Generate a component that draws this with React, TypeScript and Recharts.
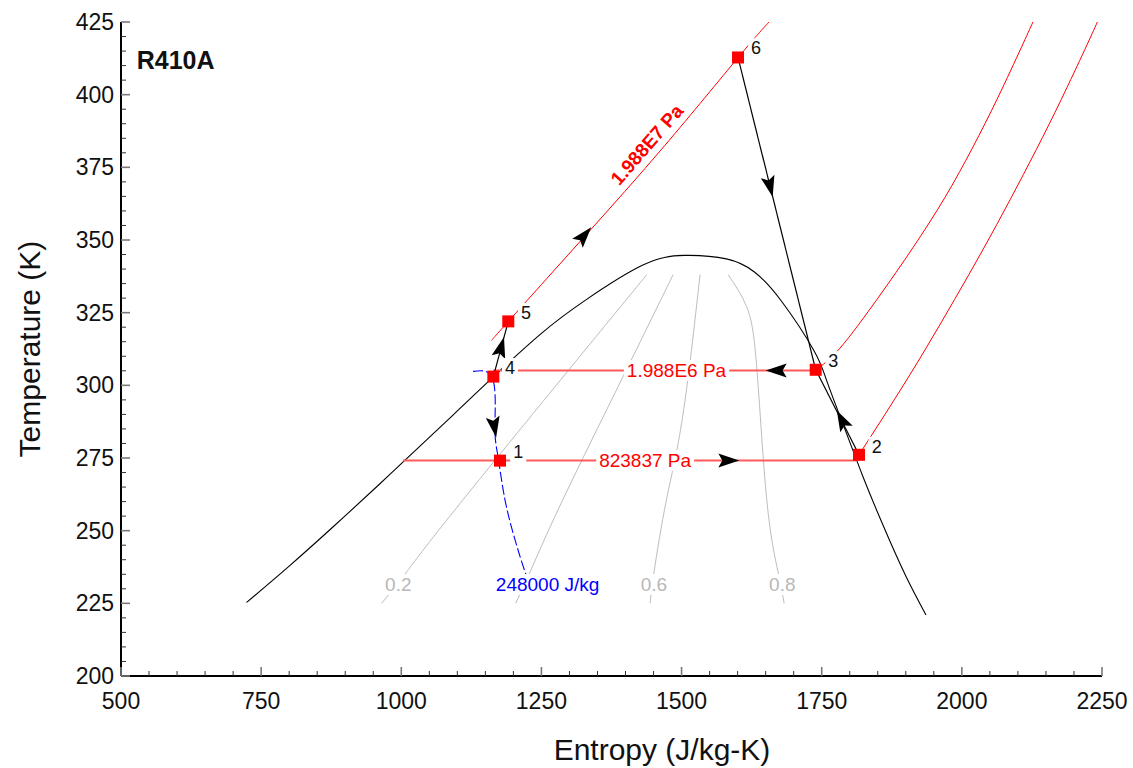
import React from 'react';
import { ComposedChart, Line, XAxis, YAxis } from 'recharts';

type Pt = { s: number; T: number };

// saturation dome (entropy J/kg-K, temperature K)
const satDome: Pt[] = [
  { s: 724, T: 225.3 }, { s: 800, T: 237.8 }, { s: 880, T: 251.6 }, { s: 960, T: 265.8 },
  { s: 1040, T: 280.3 }, { s: 1100, T: 291.2 }, { s: 1164, T: 302.9 }, { s: 1250, T: 317.9 },
  { s: 1330, T: 329.5 }, { s: 1430, T: 341.3 }, { s: 1505, T: 344.7 }, { s: 1580, T: 343.5 },
  { s: 1630, T: 339.0 }, { s: 1678, T: 329.0 }, { s: 1736, T: 312.0 }, { s: 1760, T: 301.0 },
  { s: 1792, T: 284.6 }, { s: 1824, T: 268.4 }, { s: 1860, T: 251.6 }, { s: 1900, T: 234.4 },
  { s: 1936, T: 221.0 },
];

// constant quality lines
const quality02: Pt[] = [{ s: 1438, T: 338.1 }, { s: 1110, T: 260.6 }, { s: 1010, T: 235.9 }, { s: 965, T: 225.0 }];
const quality04: Pt[] = [{ s: 1485, T: 338.1 }, { s: 1390, T: 300.8 }, { s: 1288, T: 260.6 }, { s: 1230, T: 235.9 }, { s: 1204, T: 225.0 }];
const quality06: Pt[] = [{ s: 1533, T: 338.1 }, { s: 1502, T: 289.3 }, { s: 1473, T: 260.6 }, { s: 1451, T: 235.9 }, { s: 1444, T: 225.0 }];
const quality08: Pt[] = [{ s: 1583, T: 338.1 }, { s: 1616, T: 327.1 }, { s: 1634, T: 306.5 }, { s: 1652, T: 260.6 }, { s: 1672, T: 235.9 }, { s: 1683, T: 225.0 }];

// isobars
const isobarHigh: Pt[] = [
  { s: 1161, T: 315.4 }, { s: 1191, T: 322.0 }, { s: 1326, T: 351.0 },
  { s: 1470, T: 382.5 }, { s: 1601, T: 412.8 }, { s: 1656, T: 425.0 },
];
const isobarMidSat: Pt[] = [{ s: 1164, T: 305.1 }, { s: 1739, T: 305.1 }];
const isobarMidVapor: Pt[] = [
  { s: 1739.3, T: 305.35 }, { s: 1782.6, T: 312.8 }, { s: 1850.2, T: 330.0 }, { s: 1912.5, T: 347.3 },
  { s: 1969.4, T: 364.5 }, { s: 2019.0, T: 381.7 }, { s: 2064.0, T: 398.9 }, { s: 2105.8, T: 416.1 },
  { s: 2126.8, T: 425.0 },
];
const isobarLowSat: Pt[] = [{ s: 1003, T: 274.1 }, { s: 1812, T: 274.1 }];
const isobarLowVapor: Pt[] = [
  { s: 1816.5, T: 276.1 }, { s: 1879.3, T: 295.0 }, { s: 1934.3, T: 312.2 }, { s: 1986.9, T: 329.5 },
  { s: 2037.7, T: 346.7 }, { s: 2086.2, T: 363.9 }, { s: 2132.8, T: 381.1 }, { s: 2177.2, T: 398.3 },
  { s: 2219.3, T: 415.5 }, { s: 2241.8, T: 425.0 },
];

// isenthalp 248000 J/kg
const isenthalp: Pt[] = [
  { s: 1128, T: 304.8 }, { s: 1163.6, T: 301.9 }, { s: 1167, T: 285.8 }, { s: 1172.5, T: 275.5 },
  { s: 1185, T: 260.6 }, { s: 1203, T: 246.8 }, { s: 1220.7, T: 235.9 }, { s: 1238.5, T: 227.3 },
];

// cycle state points
const statePoints: Pt[] = [
  { s: 1176.1, T: 274.1 }, { s: 1816.5, T: 276.1 }, { s: 1739.3, T: 305.35 },
  { s: 1164.2, T: 303.0 }, { s: 1190.9, T: 322.0 }, { s: 1600.7, T: 412.8 },
];
const stateLabels = [
  { s: 1208.7, T: 277.0, text: '1' }, { s: 1848, T: 278.9, text: '2' }, { s: 1770.7, T: 308.4, text: '3' },
  { s: 1193.9, T: 306.0, text: '4' }, { s: 1222.5, T: 324.9, text: '5' }, { s: 1633, T: 416.0, text: '6' },
];

const process63: Pt[] = [statePoints[5], statePoints[2]];
const process23: Pt[] = [statePoints[1], statePoints[2]];
const process45: Pt[] = [statePoints[3], statePoints[4]];

// arrowheads: position and the point they head towards
const arrows = [
  { s: 1583.4, T: 274.1, toS: 1816.5, toT: 274.1 },
  { s: 1786, T: 288.0, toS: 1739.3, toT: 305.35 },
  { s: 1669.6, T: 305.1, toS: 1164, toT: 305.1 },
  { s: 1166, T: 285.8, toS: 1176.1, toT: 274.1 },
  { s: 1178, T: 313.0, toS: 1190.9, toT: 322.0 },
  { s: 1326, T: 351.5, toS: 1600.7, toT: 412.8 },
  { s: 1657.8, T: 368.5, toS: 1739.3, toT: 305.35 },
];

const isobarLabels = [
  { s: 1491, T: 305.1, text: '1.988E6 Pa' },
  { s: 1435, T: 274.1, text: '823837 Pa' },
];
const highIsobarLabel = [{ s: 1438, T: 382.8, text: '1.988E7 Pa' }];
const qualityLabels = [
  { s: 994.7, T: 231.5, text: '0.2' },
  { s: 1450.8, T: 231.5, text: '0.6' },
  { s: 1679.7, T: 231.5, text: '0.8' },
];
const enthalpyLabel = [{ s: 1261, T: 231.5, text: '248000 J/kg' }];
const fluidLabel = [{ s: 528, T: 411.7, text: 'R410A' }];

const xMajor = [500, 750, 1000, 1250, 1500, 1750, 2000, 2250];
const yMajor = [200, 225, 250, 275, 300, 325, 350, 375, 400, 425];
const xTicks = Array.from({ length: 36 }, (_, i) => 500 + i * 50);
const yTicks = Array.from({ length: 46 }, (_, i) => 200 + i * 5);

const W = 1133;
const H = 768;
const MARGIN = { top: 22, right: 31, bottom: 0, left: 0 };
const Y_AXIS_W = 121;
const X_AXIS_H = 92;
const PLOT_W = W - MARGIN.left - MARGIN.right - Y_AXIS_W;
const PLOT_H = H - MARGIN.top - MARGIN.bottom - X_AXIS_H;
const KX = PLOT_W / (2250 - 500);
const KY = PLOT_H / (425 - 200);

const FONT = '"Liberation Sans", Arial, Helvetica, sans-serif';

// rough Arial advance widths (em) for the label background boxes
const CHAR_W: Record<string, number> = { '.': 0.278, ' ': 0.278, '/': 0.278, E: 0.667, P: 0.667, J: 0.5, k: 0.5 };
const textWidth = (t: string, size: number) =>
  t.split('').reduce((w, c) => w + (CHAR_W[c] ?? 0.556), 0) * size;

const tickStyle = (major: boolean) => ({
  stroke: major ? '#7a7a7a' : '#333',
  strokeWidth: major ? 1.6 : 1,
});

const BottomTick = ({ x, y, payload }: any) => {
  const major = xMajor.includes(payload.value);
  return (
    <g>
      <line x1={x} y1={y} x2={x} y2={y - (major ? 9 : 5)} {...tickStyle(major)} />
      {major && (
        <text x={x} y={y + 33} textAnchor="middle" fontSize={23} fill="#111">
          {payload.value}
        </text>
      )}
    </g>
  );
};

const TopTick = ({ x, y, payload }: any) => {
  const major = xMajor.includes(payload.value);
  return <line x1={x} y1={y} x2={x} y2={y + (major ? 9 : 5)} {...tickStyle(major)} />;
};

const LeftTick = ({ x, y, payload }: any) => {
  const major = yMajor.includes(payload.value);
  return (
    <g>
      <line x1={x} y1={y} x2={x + (major ? 9 : 5)} y2={y} {...tickStyle(major)} />
      {major && (
        <text x={x - 7} y={y} dy="0.35em" textAnchor="end" fontSize={23} fill="#111">
          {payload.value}
        </text>
      )}
    </g>
  );
};

const RightTick = ({ x, y, payload }: any) => {
  const major = yMajor.includes(payload.value);
  return <line x1={x} y1={y} x2={x - (major ? 9 : 5)} y2={y} {...tickStyle(major)} />;
};

const arrowDot = (props: any) => {
  const { cx, cy, payload, index } = props;
  const dx = (payload.toS - payload.s) * KX;
  const dy = -(payload.toT - payload.T) * KY;
  const ang = (Math.atan2(dy, dx) * 180) / Math.PI;
  return (
    <path
      key={`a${index}`}
      d="M11,0 L-10,-7 L-6,0 L-10,7 Z"
      transform={`translate(${cx},${cy}) rotate(${ang})`}
      fill="#000"
    />
  );
};

const squareDot = ({ cx, cy, index }: any) => (
  <rect key={`q${index}`} x={cx - 6} y={cy - 6} width={12} height={12} fill="#ff0000" />
);

type TextOpts = { size: number; color: string; bold?: boolean; rotate?: number; anchor?: string; box?: boolean };

const textDot = (o: TextOpts) => (props: any) => {
  const { cx, cy, payload, index } = props;
  const w = textWidth(payload.text, o.size);
  const bh = o.size * 1.1;
  return (
    <g key={`t${index}`} transform={o.rotate ? `rotate(${o.rotate} ${cx} ${cy})` : undefined}>
      {o.box && <rect x={cx - w / 2 - 3} y={cy - bh / 2} width={w + 6} height={bh} fill="#fff" />}
      <text
        x={cx}
        y={cy}
        dy="0.35em"
        textAnchor={(o.anchor ?? 'middle') as any}
        fontSize={o.size}
        fontWeight={o.bold ? 'bold' : 'normal'}
        fill={o.color}
      >
        {payload.text}
      </text>
    </g>
  );
};

const curve = (data: Pt[], stroke: string, width = 1, dash?: string) => (
  <Line
    data={data}
    dataKey="T"
    type="natural"
    stroke={stroke}
    strokeWidth={width}
    strokeDasharray={dash}
    dot={false}
    activeDot={false}
    isAnimationActive={false}
  />
);

const marks = (data: any[], dot: (p: any) => React.ReactElement) => (
  <Line
    data={data}
    dataKey="T"
    stroke="none"
    strokeWidth={0}
    dot={dot}
    activeDot={false}
    isAnimationActive={false}
  />
);

export default function App() {
  return (
    <div style={{ position: 'absolute', left: 0, top: 0, width: W, height: H, background: '#fff', fontFamily: FONT }}>
      <ComposedChart width={W} height={H} margin={MARGIN}>
        <XAxis
          dataKey="s"
          type="number"
          domain={[500, 2250]}
          allowDataOverflow
          ticks={xTicks}
          interval={0}
          tickSize={0}
          tickMargin={0}
          tickLine={false}
          tick={BottomTick}
          height={X_AXIS_H}
          axisLine={{ stroke: '#000', strokeWidth: 2 }}
          label={{
            content: () => (
              <text x={662} y={760} textAnchor="middle" fontSize={30} fill="#111">
                Entropy (J/kg-K)
              </text>
            ),
          }}
        />
        <XAxis
          xAxisId="top"
          orientation="top"
          dataKey="s"
          type="number"
          domain={[500, 2250]}
          allowDataOverflow
          ticks={xTicks}
          interval={0}
          tickSize={0}
          tickMargin={0}
          tickLine={false}
          tick={TopTick}
          height={0}
          axisLine={{ stroke: '#000', strokeWidth: 2 }}
        />
        <YAxis
          dataKey="T"
          type="number"
          domain={[200, 425]}
          allowDataOverflow
          ticks={yTicks}
          interval={0}
          tickSize={0}
          tickMargin={0}
          tickLine={false}
          tick={LeftTick}
          width={Y_AXIS_W}
          axisLine={{ stroke: '#000', strokeWidth: 2 }}
          label={{
            content: () => (
              <text
                x={40}
                y={349}
                textAnchor="middle"
                fontSize={30}
                fill="#111"
                transform="rotate(-90 40 349)"
              >
                Temperature (K)
              </text>
            ),
          }}
        />
        <YAxis
          yAxisId="right"
          orientation="right"
          dataKey="T"
          type="number"
          domain={[200, 425]}
          allowDataOverflow
          ticks={yTicks}
          interval={0}
          tickSize={0}
          tickMargin={0}
          tickLine={false}
          tick={RightTick}
          width={0}
          axisLine={{ stroke: '#000', strokeWidth: 2 }}
        />

        {curve(quality02, '#bdbdbd')}
        {curve(quality04, '#bdbdbd')}
        {curve(quality06, '#bdbdbd')}
        {curve(quality08, '#bdbdbd')}
        {curve(satDome, '#000', 1.1)}
        {curve(isobarHigh, '#ff0000')}
        {curve(isobarMidVapor, '#ff0000')}
        {curve(isobarLowVapor, '#ff0000')}
        {curve(isobarMidSat, '#ff5a5a', 2)}
        {curve(isobarLowSat, '#ff5a5a', 2)}
        {curve(isenthalp, '#0000ff', 1.1, '10 3')}
        {curve(process63, '#000', 1.2)}
        {curve(process23, '#000', 1.2)}
        {curve(process45, '#000', 1.2)}

        {marks(arrows, arrowDot)}
        {marks(statePoints, squareDot)}
        {marks(stateLabels, textDot({ size: 18, color: '#111', box: true }))}
        {marks(isobarLabels, textDot({ size: 19, color: '#ff0000', box: true }))}
        {marks(highIsobarLabel, textDot({ size: 19, color: '#ff0000', bold: true, rotate: -49 }))}
        {marks(qualityLabels, textDot({ size: 19, color: '#b8b8b8', box: true }))}
        {marks(enthalpyLabel, textDot({ size: 19, color: '#0000ff', box: true }))}
        {marks(fluidLabel, textDot({ size: 25, color: '#111', bold: true, anchor: 'start' }))}
      </ComposedChart>
    </div>
  );
}
